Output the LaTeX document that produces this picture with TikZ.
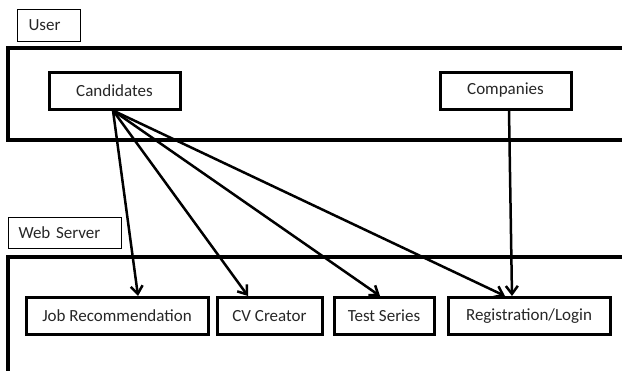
\documentclass[tikz,border=0pt]{standalone}
\usepackage{fontspec}
\setmainfont{Carlito}
\usepackage{tikz}
\usetikzlibrary{arrows.meta}

\tikzset{
  labelbox/.style={draw,line width=1pt,anchor=north west,inner xsep=11pt,
    align=left,minimum height=32pt,text=black!85},
  partbox/.style={draw,line width=3pt,minimum height=37pt,text=black!85},
  frameline/.style={line width=3.2pt},
  flow/.style={line width=2.5pt,-{Straight Barb[length=8pt,width=12pt,line width=2.5pt]}}
}

\begin{document}
\begin{tikzpicture}[x=1pt,y=-1pt,font=\fontsize{17}{19}\selectfont]
  \useasboundingbox (0,0) rectangle (622,370);
  % User side
  \node[labelbox,text width=41pt] (user) at (17,9) {User};
  \draw[frameline] (624,48) -- (8,48) -- (8,140) -- (624,140);
  \node[partbox,minimum width=131pt] (cand) at (114.5,90.5) {Candidates};
  \node[partbox,minimum width=131pt] (comp) at (505.5,90.5) {Companies};
  % Web server side
  \node[labelbox,text width=93pt,minimum height=31pt,inner xsep=10pt] (web) at (8,217) {Web Server};
  \draw[frameline] (624,257) -- (8,257) -- (8,372);
  \node[partbox,minimum width=182pt] (jobrec) at (117,316) {Job Recommendation};
  \node[partbox,minimum width=105pt] (cv) at (269.5,316) {CV Creator};
  \node[partbox,minimum width=100pt] (test) at (384,316) {Test Series};
  \node[partbox,minimum width=162pt] (reg) at (529,316) {Registration/Login};
  % Connectors
  \draw[flow] ([xshift=-1.5pt]cand.south) -- ([xshift=21pt]jobrec.north);
  \draw[flow] ([xshift=-1.5pt]cand.south) -- ([xshift=-21.5pt]cv.north);
  \draw[flow] ([xshift=-1.5pt]cand.south) -- ([xshift=-4pt]test.north);
  \draw[flow] ([xshift=-1.5pt]cand.south) -- ([xshift=-24pt]reg.north);
  \draw[flow] ([xshift=3.5pt]comp.south) -- ([xshift=-17pt]reg.north);
\end{tikzpicture}
\end{document}
